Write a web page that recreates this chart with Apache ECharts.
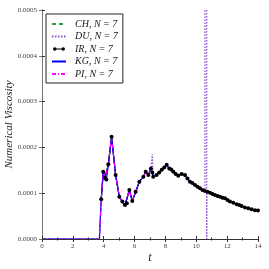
<!DOCTYPE html>
<html><head><meta charset="utf-8">
<script src="https://cdn.jsdelivr.net/npm/echarts@6/dist/echarts.min.js"></script>
<style>html,body{margin:0;padding:0;background:#fff}#c{width:269px;height:269px}</style>
</head><body><div id="c"></div>
<script>
// time samples
const tVals = [0, 2.7, 3.72, 3.84, 3.97, 4.08, 4.17, 4.30, 4.51, 4.77, 5.01, 5.21, 5.38, 5.50, 5.66, 5.85, 6.07, 6.31, 6.57, 6.72, 6.89, 7.06, 7.15, 7.21, 7.43, 7.60, 7.76, 7.92, 8.08, 8.25, 8.38, 8.51, 8.67, 8.83, 9.05, 9.27, 9.43, 9.59, 9.75, 9.92, 10.08, 10.24, 10.40, 10.56, 10.66, 10.67, 10.675, 10.68, 10.72, 10.89, 11.05, 11.21, 11.38, 11.54, 11.70, 11.86, 12.02, 12.18, 12.40, 12.62, 12.78, 12.94, 13.15, 13.37, 13.58, 13.80, 14.00];
// values in units of 1e-4
const chVals = [0, 0, 0, 0.85, 1.46, 1.33, 1.29, 1.62, 2.22, 1.40, 0.93, 0.81, 0.75, 0.77, 1.06, 0.82, 1.02, 1.24, 1.36, 1.46, 1.39, 1.53, 1.44, 1.37, 1.40, 1.44, 1.50, 1.56, 1.61, 1.53, 1.51, 1.46, 1.41, 1.37, 1.41, 1.39, 1.31, 1.25, 1.22, 1.18, 1.14, 1.11, 1.07, 1.05, 1.04, 1.04, 1.04, 1.03, 1.03, 1.01, 0.98, 0.96, 0.94, 0.92, 0.90, 0.88, 0.85, 0.82, 0.79, 0.76, 0.74, 0.72, 0.69, 0.67, 0.65, 0.63, 0.62];
const duVals = [0, 0, 0, 0.87, 1.47, 1.34, 1.30, 1.63, 2.23, 1.40, 0.92, 0.82, 0.74, 0.78, 1.07, 0.83, 1.03, 1.25, 1.36, 1.47, 1.40, 1.54, 1.85, 1.36, 1.40, 1.45, 1.51, 1.56, 1.62, 1.54, 1.52, 1.47, 1.42, 1.38, 1.42, 1.40, 1.32, 1.25, 1.22, 1.18, 1.14, 1.11, 1.07, 1.05, 1.04, 300, -300, 1.04, 1.03, 1.01, 0.98, 0.96, 0.94, 0.92, 0.90, 0.89, 0.85, 0.82, 0.79, 0.76, 0.74, 0.72, 0.69, 0.67, 0.65, 0.63, 0.62];
const irVals = [null, null, null, 0.87, 1.47, 1.34, 1.30, 1.63, 2.23, 1.40, 0.92, 0.82, 0.74, 0.78, 1.07, 0.83, 1.03, 1.25, 1.36, 1.47, 1.40, 1.54, 1.45, 1.36, 1.40, 1.45, 1.51, 1.56, 1.62, 1.54, 1.52, 1.47, 1.42, 1.38, 1.42, 1.40, 1.32, 1.25, 1.22, 1.18, 1.14, 1.11, 1.07, 1.05, null, null, null, null, 1.03, 1.01, 0.98, 0.96, 0.94, 0.92, 0.90, 0.89, 0.85, 0.82, 0.79, 0.76, 0.74, 0.72, 0.69, 0.67, 0.65, 0.63, 0.62];
const kgVals = [0, 0, 0, 0.88, 1.48, 1.35, 1.28, 1.63, 2.23, 1.41, 0.92, 0.81, 0.73, 0.77, 1.07, 0.82, 1.03, 1.26, 1.35, 1.47, 1.41, 1.53, 1.45, 1.37, 1.41, 1.45, 1.52, 1.57, 1.61, 1.55, 1.51, 1.47, 1.42, 1.39, 1.43, 1.40, 1.32, 1.26, 1.21, 1.18, 1.15, 1.11, 1.07, 1.05, 1.04, 1.04, 1.04, 1.03, 1.03, 1.01, 0.98, 0.96, 0.94, 0.92, 0.90, 0.89, 0.85, 0.82, 0.79, 0.76, 0.74, 0.72, 0.69, 0.67, 0.65, 0.63, 0.62];
const piVals = [0, 0, 0, 0.87, 1.47, 1.34, 1.30, 1.63, 2.23, 1.40, 0.92, 0.82, 0.74, 0.78, 1.07, 0.83, 1.03, 1.25, 1.36, 1.47, 1.40, 1.54, 1.45, 1.36, 1.40, 1.45, 1.51, 1.56, 1.62, 1.54, 1.52, 1.47, 1.42, 1.38, 1.42, 1.40, 1.32, 1.25, 1.22, 1.18, 1.14, 1.11, 1.07, 1.05, 1.04, 1.04, 1.04, 1.03, 1.03, 1.01, 0.98, 0.96, 0.94, 0.92, 0.90, 0.89, 0.85, 0.82, 0.79, 0.76, 0.74, 0.72, 0.69, 0.67, 0.65, 0.63, 0.62];
const seriesNames = ['CH, N = 7', 'DU, N = 7', 'IR, N = 7', 'KG, N = 7', 'PI, N = 7'];
const xTicks = [0, 2, 4, 6, 8, 10, 12, 14];
const yTicks = [0, 0.0001, 0.0002, 0.0003, 0.0004, 0.0005];

const pairs = v => tVals.map((t, i) => [t, v[i] == null ? null : v[i] * 1e-4]).filter(p => p[1] != null);
const serif = 'Liberation Serif';
const axisCol = '#333';
// legend icon for marker line: dot - line - dot
const irIcon = 'path://M0,0L0.01,0L0,0.01Z M14,8L13.99,8L14,7.99Z M1,4A1.8,1.8 0 1 1 4.6,4A1.8,1.8 0 1 1 1,4Z M9.4,4A1.8,1.8 0 1 1 13,4A1.8,1.8 0 1 1 9.4,4Z M2.8,3.4L11.2,3.4L11.2,4.6L2.8,4.6Z';

const chart = echarts.init(document.getElementById('c'), null, {renderer: 'canvas'});
const mk = (name, vals, color, type, extra) => Object.assign({
  name, type: 'line', data: pairs(vals), showSymbol: false, symbol: 'none',
  lineStyle: {color, width: 1.2, type}, itemStyle: {color}, clip: true, animation: false
}, extra || {});

chart.setOption({
  animation: false,
  grid: {left: 42, right: 11, top: 10, bottom: 30, containLabel: false, outerBoundsMode: 'none'},
  legend: {
    orient: 'vertical', left: 46, top: 14, padding: [5, 5, 4, 5],
    borderColor: '#222', borderWidth: 1, backgroundColor: '#fff',
    itemWidth: 14, itemHeight: 8, itemGap: 2.5,
    textStyle: {fontFamily: serif, fontStyle: 'italic', fontSize: 10, color: '#222', padding: [0, 0, 0, 4]},
    data: seriesNames.map((n, i) => i === 2 ? {name: n, icon: irIcon} : {name: n, itemStyle: {opacity: 0}})
  },
  xAxis: [{
    type: 'value', min: 0, max: 14, interval: 2, z: 10,
    name: 't', nameLocation: 'middle', nameGap: 13, nameMoveOverlap: false,
    nameTextStyle: {fontFamily: serif, fontStyle: 'italic', fontSize: 12, color: '#222'},
    axisLine: {lineStyle: {color: axisCol, width: 1}},
    axisTick: {inside: true, length: 3, lineStyle: {color: axisCol}},
    minorTick: {show: true, splitNumber: 2, length: 1.5, lineStyle: {color: axisCol}},
    axisLabel: {fontFamily: serif, fontSize: 7, color: '#444', margin: 4},
    splitLine: {show: false}
  }, {
    type: 'value', min: 0, max: 14, interval: 2, position: 'top', z: 10,
    axisLine: {lineStyle: {color: axisCol, width: 1}},
    axisTick: {inside: true, length: 3, lineStyle: {color: axisCol}},
    minorTick: {show: true, splitNumber: 2, length: 1.5, lineStyle: {color: axisCol}},
    axisLabel: {show: false}, splitLine: {show: false}
  }],
  yAxis: [{
    type: 'value', min: 0, max: 0.0005, interval: 0.0001, z: 10,
    name: 'Numerical Viscosity', nameLocation: 'middle', nameGap: 27, nameMoveOverlap: false,
    nameTextStyle: {fontFamily: serif, fontStyle: 'italic', fontSize: 11, color: '#222'},
    axisLine: {show: true, lineStyle: {color: axisCol, width: 1}},
    axisTick: {show: true, inside: true, length: 3, lineStyle: {color: axisCol}},
    axisLabel: {fontFamily: serif, fontSize: 7, color: '#444', margin: 5, formatter: v => v.toFixed(4)},
    splitLine: {show: false}
  }, {
    type: 'value', min: 0, max: 0.0005, interval: 0.0001, position: 'right', z: 10,
    axisLine: {show: true, lineStyle: {color: '#777', width: 1}},
    axisTick: {show: true, inside: true, length: 3, lineStyle: {color: '#777'}},
    axisLabel: {show: false}, splitLine: {show: false}
  }],
  series: [
    mk(seriesNames[0], chVals, '#2ca02c', [4, 3]),
    mk(seriesNames[1], duVals, '#8a4fd0', [1.5, 1.5]),
    mk(seriesNames[2], irVals, '#000000', 'solid', {showSymbol: true, symbol: 'circle', symbolSize: 4}),
    mk(seriesNames[3], kgVals, '#0000ff', 'solid'),
    mk(seriesNames[4], piVals, '#ff00ff', [4, 2, 1, 2])
  ]
});
</script></body></html>
